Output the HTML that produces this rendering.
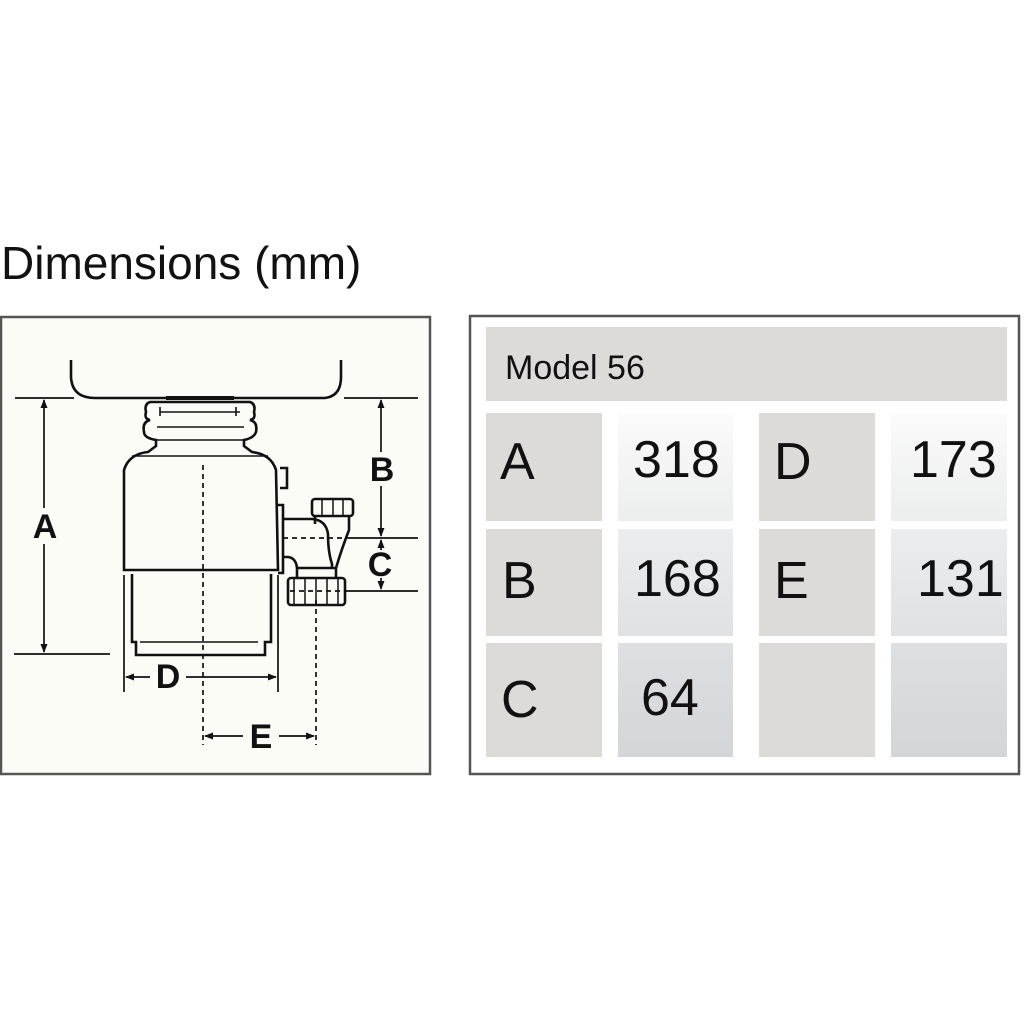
<!DOCTYPE html>
<html><head><style>
body{margin:0;width:1024px;height:1024px;background:#fff;position:relative;font-family:"Liberation Sans",Arial,sans-serif;overflow:hidden}
.t{position:absolute;left:1px;top:236px;font-size:46px;color:#111}
</style></head><body>
<div class="t">Dimensions (mm)</div>
<svg width="1024" height="1024" style="position:absolute;left:0;top:0">
<defs>
<linearGradient id="g1" x1="0" y1="0" x2="0" y2="1"><stop offset="0" stop-color="#fbfbfb"/><stop offset="1" stop-color="#eceded"/></linearGradient>
<linearGradient id="g2" x1="0" y1="0" x2="0" y2="1"><stop offset="0" stop-color="#ebedee"/><stop offset="1" stop-color="#dfe1e3"/></linearGradient>
<linearGradient id="g3" x1="0" y1="0" x2="0" y2="1"><stop offset="0" stop-color="#dde0e2"/><stop offset="1" stop-color="#d3d6d9"/></linearGradient>
<marker id="ar" markerWidth="9" markerHeight="8" refX="8" refY="4" orient="auto-start-reverse" markerUnits="userSpaceOnUse"><path d="M0,0.5 L9,4 L0,7.5z" fill="#111"/></marker>
</defs>
<rect x="1" y="317" width="429" height="457" fill="#fcfcf7" stroke="#555" stroke-width="2.5"/>
<rect x="470" y="316" width="549" height="458" fill="#fff" stroke="#555" stroke-width="2.5"/>
<rect x="486" y="327" width="521" height="74" fill="#dcdbd8"/>
<rect x="486" y="413" width="116" height="108" fill="#dcdbd8"/>
<rect x="486" y="529" width="116" height="107" fill="#dcdbd8"/>
<rect x="486" y="643" width="116" height="114" fill="#dcdbd8"/>
<rect x="759" y="413" width="116" height="108" fill="#dcdbd8"/>
<rect x="759" y="529" width="116" height="107" fill="#dcdbd8"/>
<rect x="759" y="643" width="116" height="114" fill="#dcdbd8"/>
<rect x="618" y="413" width="115" height="108" fill="url(#g1)"/>
<rect x="891" y="413" width="116" height="108" fill="url(#g1)"/>
<rect x="618" y="529" width="115" height="107" fill="url(#g2)"/>
<rect x="891" y="529" width="116" height="107" fill="url(#g2)"/>
<rect x="618" y="643" width="115" height="114" fill="url(#g3)"/>
<rect x="891" y="643" width="116" height="114" fill="url(#g3)"/>
<g fill="none" stroke="#111" stroke-width="2.6">
<path d="M71,360 V377 Q72,398 95,398 H325 Q341,396 341,377 V360"/>
<path d="M166,398 H234" stroke-width="4"/>
<path d="M150,402 H250 Q256,404 254,412 Q256,419 250,420 Q258,422 256,432 Q254,438 244,440 V446 L252,452 Q271,454 276,470 L278,570 H124 L124,470 Q129,454 148,452 L156,446 V440 Q144,438 144,432 Q142,422 150,420 Q144,419 146,412 Q144,404 150,402Z"/>
<path d="M160,412 H240 M160,407 V416 M236,407 V416 M157,427 H244 M157,440 H244 M132,456 H268" stroke-width="1.6"/>
<path d="M280,468 H287 V488 H280"/>
<path d="M278,505 H283 V573 H278"/>
<path d="M132,574 V642 H136 V655 H265 V642 H271 V574"/>
<path d="M140,642 H258" stroke-width="1.4"/>
<path d="M283,519 H312 Q326,520 328,534 Q328,552 332,564 V568 M283,557 H288 Q296,558 297,568 M315,516 V524 M349,516 V530 Q342,548 336,568"/>
<path d="M297,568 H336 V578 M297,568 V578"/>
<rect x="312" y="499" width="41" height="17" rx="3"/>
<path d="M322,500 V515 M333,500 V515 M343,500 V515" stroke-width="1.5"/>
<rect x="288" y="578" width="57" height="27" rx="3"/>
<path d="M294,579 V604 M305,579 V604 M316,579 V604 M327,579 V604 M338,579 V604" stroke-width="1.5"/>
</g>
<g stroke="#111" stroke-width="1.7" fill="none">
<path d="M15,398 H74 M344,398 H418 M14,654 H110 M345,591 H418 M350,538 H418 M124,575 V692 M278,575 V692"/>
<path d="M283,538 H350 M203,465 V745 M316,600 V745 M290,591 H345" stroke-dasharray="5,4"/>
</g>
<g stroke="#111" stroke-width="1.7" fill="none" marker-end="url(#ar)">
<path d="M44,508 V400" /><path d="M44,544 V652"/>
<path d="M381,452 V400"/><path d="M381,486 V536"/>
<path d="M381,550 V540"/><path d="M381,578 V589"/>
<path d="M150,677 H126"/><path d="M186,677 H276"/>
<path d="M243,736 H205"/><path d="M279,736 H314"/>
</g>
<g font-family="Liberation Sans,Arial,sans-serif" font-weight="bold" font-size="34" fill="#111" text-anchor="middle">
<text x="45" y="538">A</text><text x="382" y="481">B</text><text x="380" y="576">C</text>
<text x="168" y="688">D</text><text x="261" y="748">E</text>
</g>
<g font-family="Liberation Sans,Arial,sans-serif" fill="#111">
<text x="505" y="379" font-size="34">Model 56</text>
<g font-size="52">
<text x="500" y="479">A</text><text x="633" y="477">318</text><text x="774" y="479">D</text><text x="910" y="477">173</text>
<text x="502" y="598">B</text><text x="634" y="596">168</text><text x="774" y="598">E</text><text x="917" y="596">131</text>
<text x="501" y="717">C</text><text x="641" y="715">64</text>
</g></g>
</svg>
</body></html>
